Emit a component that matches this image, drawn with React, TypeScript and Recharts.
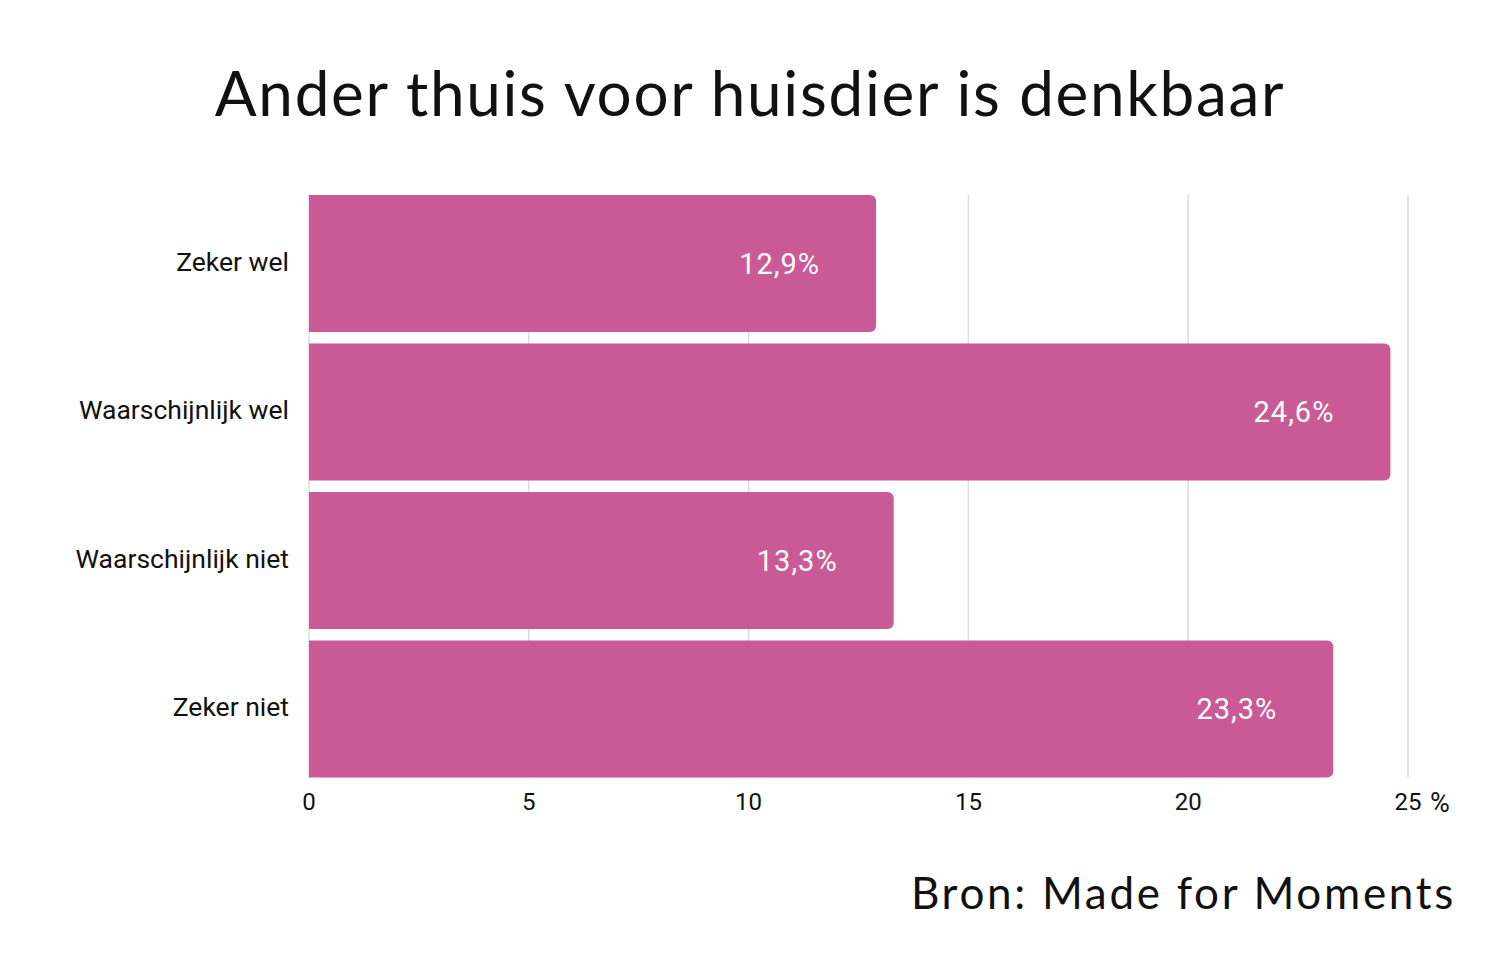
import { BarChart, Bar, XAxis, YAxis, CartesianGrid, LabelList } from "recharts";

const categories = ["Zeker wel", "Waarschijnlijk wel", "Waarschijnlijk niet", "Zeker niet"];
const shares = [12.9, 24.6, 13.3, 23.3];
const xTicks = [0, 5, 10, 15, 20, 25];

const data = categories.map((name, i) => ({ name, value: shares[i] }));

const PINK = "#CA5A95";
const GRID = "#dcdcdc";
const SANS = "Roboto, 'Noto Sans', sans-serif";
const DISPLAY = "Lato, 'Noto Sans', sans-serif";

const fmtPct = (v: number) => v.toFixed(1).replace(".", ",") + "%";

function XTick(props: any) {
  const { x, y, payload } = props;
  const last = payload.value === xTicks[xTicks.length - 1];
  return (
    <g>
      <text x={x} y={y} dy="0.71em" textAnchor="middle" fill="#111" fontSize={24} fontFamily={SANS}>
        {payload.value}
      </text>
      {last ? (
        <text x={x + 22} y={y} dy="0.71em" textAnchor="start" fill="#111" fontSize={27} fontFamily={SANS}>
          %
        </text>
      ) : null}
    </g>
  );
}

function YTick(props: any) {
  const { x, y, payload } = props;
  return (
    <text x={x} y={y - 2} dy="0.355em" textAnchor="end" fill="#111" fontSize={26.5} fontFamily={SANS}>
      {payload.value}
    </text>
  );
}

// grid lines sit inside the bar area, not the padded band edges
function GridLine(props: any) {
  const { x1, x2, y1, y2 } = props;
  return <line x1={x1} x2={x2} y1={y1 + 6} y2={y2 - 5} stroke={GRID} strokeWidth={1.5} />;
}

export default function App() {
  return (
    <div style={{ position: "relative", width: 1500, height: 975, background: "#fff" }}>
      <style>{"body{margin:0}"}</style>
      <div
        style={{
          position: "absolute",
          left: 0,
          width: 1500,
          top: 52,
          textAlign: "center",
          fontFamily: DISPLAY,
          fontSize: 62,
          letterSpacing: 1.7,
          color: "#111",
          lineHeight: "80px",
        }}
      >
        Ander thuis voor huisdier is denkbaar
      </div>
      <BarChart
        width={1500}
        height={975}
        data={data}
        layout="vertical"
        margin={{ top: 189, right: 92, bottom: 152, left: 0 }}
        barCategoryGap={6}
      >
        <CartesianGrid horizontal={false} vertical={(p: any) => <GridLine {...p} />} />
        <XAxis
          type="number"
          domain={[0, 25]}
          ticks={xTicks}
          axisLine={false}
          tickLine={false}
          tickSize={0}
          tickMargin={10}
          height={40}
          tick={<XTick />}
        />
        <YAxis
          type="category"
          dataKey="name"
          width={309}
          axisLine={false}
          tickLine={false}
          tickSize={0}
          tickMargin={20}
          tick={<YTick />}
        />
        <Bar dataKey="value" fill={PINK} radius={[0, 6, 6, 0]} isAnimationActive={false}>
          <LabelList
            dataKey="value"
            position="insideRight"
            offset={56}
            formatter={(v: any) => fmtPct(Number(v))}
            fill="#fff"
            fontSize={29}
            letterSpacing={1}
            fontFamily={SANS}
          />
        </Bar>
      </BarChart>
      <div
        style={{
          position: "absolute",
          right: 44,
          top: 862,
          fontFamily: DISPLAY,
          fontSize: 44,
          letterSpacing: 2.7,
          color: "#111",
          lineHeight: "60px",
        }}
      >
        Bron: Made for Moments
      </div>
    </div>
  );
}
